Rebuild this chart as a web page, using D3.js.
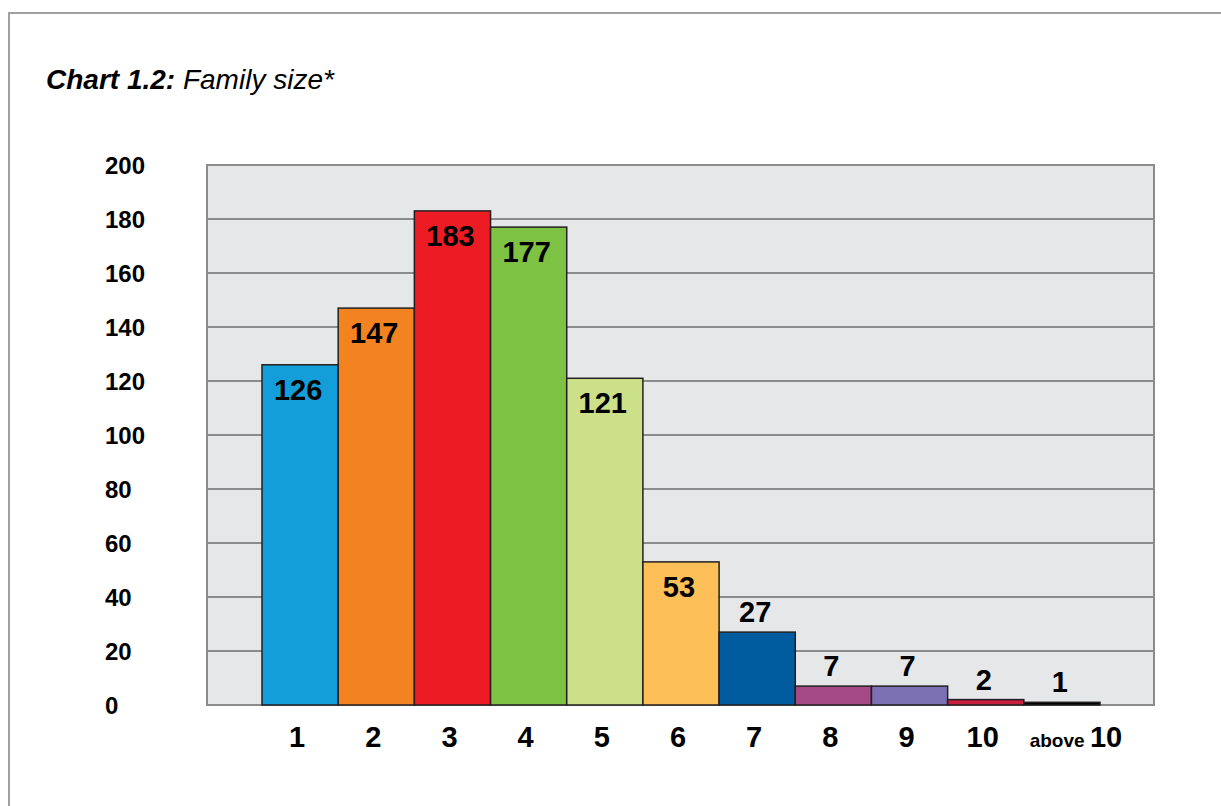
<!DOCTYPE html>
<html>
<head>
<meta charset="utf-8">
<script src="https://cdn.jsdelivr.net/npm/d3@7"></script>
<style>
  body { margin: 0; background: #fff; }
  svg { display: block; }
  text { font-family: "Liberation Sans", Arial, sans-serif; fill: #000; }
</style>
</head>
<body>
<div id="chart"></div>
<script>
const categories = ["1", "2", "3", "4", "5", "6", "7", "8", "9", "10", "above 10"];
const counts = [126, 147, 183, 177, 121, 53, 27, 7, 7, 2, 1];
const barColors = ["#139dd9", "#f38321", "#ed1c24", "#7dc242", "#cce08a", "#fdbf57",
  "#005c9e", "#a54a86", "#7a70b2", "#c8203f", "#000000"];
const yTicks = [0, 20, 40, 60, 80, 100, 120, 140, 160, 180, 200];

const width = 1221, height = 806;
const plot = { left: 207, right: 1154, top: 165, bottom: 705 };

const svg = d3.select("#chart").append("svg")
  .attr("width", width)
  .attr("height", height);

// outer frame (top and left edges only)
svg.append("path")
  .attr("d", `M9,${height} L9,13 L${width},13`)
  .attr("fill", "none")
  .attr("stroke", "#a0a0a0")
  .attr("stroke-width", 2);

// title
const title = svg.append("text")
  .attr("x", 46)
  .attr("y", 89)
  .style("font-size", "28px")
  .style("font-style", "italic");
title.append("tspan").style("font-weight", "bold").text("Chart 1.2:");
title.append("tspan").text(" Family size*");

const x = d3.scaleBand()
  .domain(categories)
  .range([262, 1100])
  .padding(0);

const y = d3.scaleLinear()
  .domain([0, 200])
  .range([plot.bottom, plot.top]);

// plot background
svg.append("rect")
  .attr("x", plot.left)
  .attr("y", plot.top)
  .attr("width", plot.right - plot.left)
  .attr("height", plot.bottom - plot.top)
  .attr("fill", "#e6e7e9");

// gridlines
svg.append("g")
  .selectAll("line")
  .data(yTicks.slice(1, -1))
  .join("line")
  .attr("x1", plot.left)
  .attr("x2", plot.right)
  .attr("y1", d => y(d))
  .attr("y2", d => y(d))
  .attr("stroke", "#8c8c8c")
  .attr("stroke-width", 2);

// plot frame
svg.append("rect")
  .attr("x", plot.left)
  .attr("y", plot.top)
  .attr("width", plot.right - plot.left)
  .attr("height", plot.bottom - plot.top)
  .attr("fill", "none")
  .attr("stroke", "#8c8c8c")
  .attr("stroke-width", 2);

// y tick labels
svg.append("g")
  .selectAll("text")
  .data(yTicks)
  .join("text")
  .attr("x", 105)
  .attr("y", d => y(d))
  .attr("dy", "0.36em")
  .style("font-size", "24px")
  .style("font-weight", "bold")
  .text(d => d);

// bars
svg.append("g")
  .selectAll("rect")
  .data(counts)
  .join("rect")
  .attr("x", (d, i) => x(categories[i]))
  .attr("y", d => y(d))
  .attr("width", x.bandwidth())
  .attr("height", d => y(0) - y(d))
  .attr("fill", (d, i) => barColors[i])
  .attr("stroke", "#231f20")
  .attr("stroke-width", 1.5);

// value labels
svg.append("g")
  .selectAll("text")
  .data(counts)
  .join("text")
  .attr("x", (d, i) => x(categories[i]) + x.bandwidth() / 2 - 2)
  .attr("y", d => d >= 50 ? y(d) + 35 : y(d) - 10)
  .attr("text-anchor", "middle")
  .style("font-size", "29px")
  .style("font-weight", "bold")
  .text(d => d);

// x labels
const xl = svg.append("g")
  .selectAll("text")
  .data(categories)
  .join("text")
  .attr("x", d => x(d) + x.bandwidth() / 2 + (d === "above 10" ? 14 : -3))
  .attr("y", 747)
  .attr("text-anchor", "middle")
  .style("font-size", "29px")
  .style("font-weight", "bold");
xl.each(function (d) {
  const t = d3.select(this);
  if (d === "above 10") {
    t.append("tspan").style("font-size", "19px").text("above ");
    t.append("tspan").text("10");
  } else {
    t.text(d);
  }
});
</script>
</body>
</html>
